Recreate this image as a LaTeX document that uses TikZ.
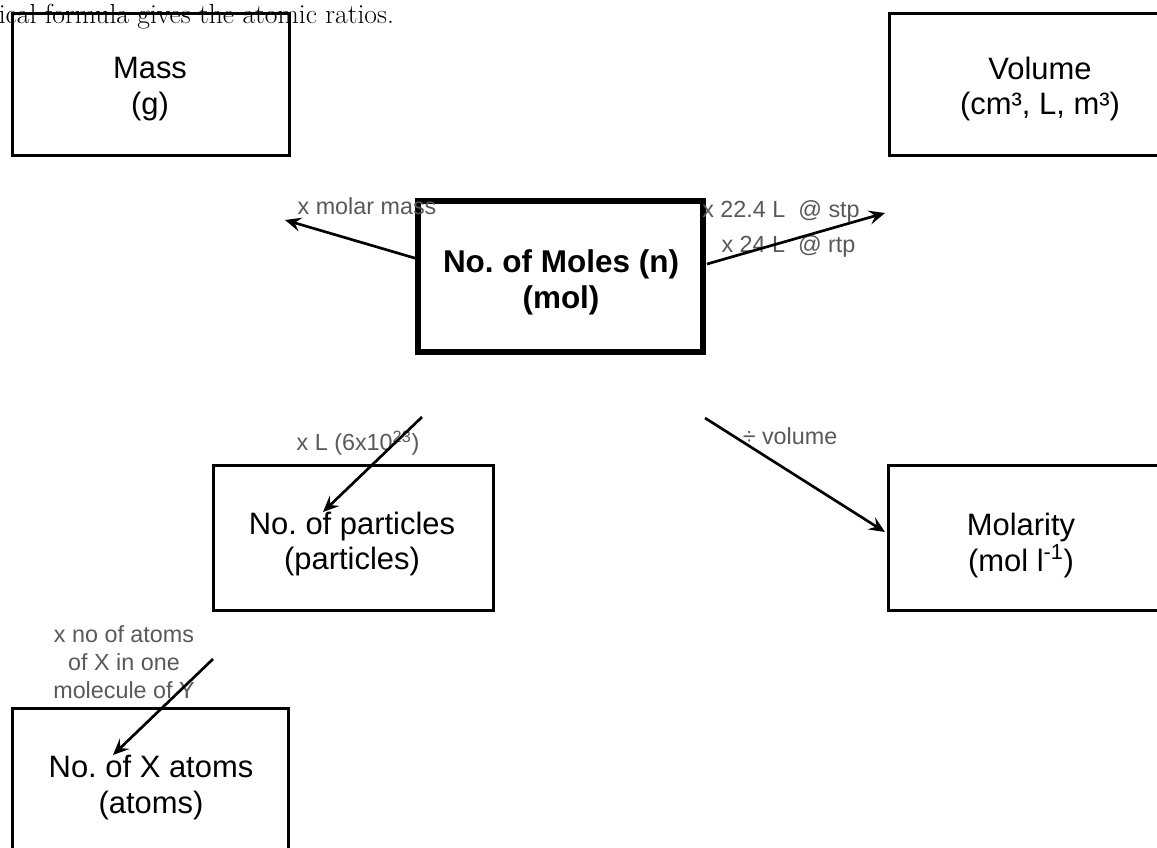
\documentclass[tikz,border=0pt]{standalone}
\usepackage{fontspec}
\setmainfont{Latin Modern Roman}
\newfontfamily\arialf{Liberation Sans}
\usetikzlibrary{arrows.meta}
\definecolor{lblgray}{RGB}{89,89,89}
\frenchspacing
\tikzset{
  box/.style={draw, line width=2.25pt, rectangle, inner sep=0pt},
  mainbox/.style={draw, line width=4pt, rectangle, inner sep=0pt},
  boxtext/.style={font=\arialf\fontsize{23.2}{26.6}\selectfont, align=center, inner sep=0pt},
  maintext/.style={font=\arialf\bfseries\fontsize{23.6}{26.8}\selectfont, align=center, inner sep=0pt},
  lbl/.style={font=\arialf\fontsize{17.5}{21}\selectfont, text=lblgray, inner sep=0pt, align=center},
  conv/.style={line width=2pt, -{Stealth[length=12pt,width=10.5pt,inset=4.5pt]}},
}
\begin{document}
\begin{tikzpicture}[x=0.75pt,y=-0.75pt]
\useasboundingbox (0,0) rectangle (1157,847);
\clip (0,0) rectangle (1157,847);

% cut-off line of running text
\node[anchor=base west, inner sep=0pt, font=\fontsize{20.7}{22}\selectfont] (caption) at (-1.5,23) {ical formula gives the atomic ratios.};

% boxes
\node[box, minimum width=207.75pt, minimum height=106.5pt] (mass) at (150.5,84) {};
\node[box, minimum width=225pt, minimum height=106.5pt] (volume) at (1039,84) {};
\node[mainbox, minimum width=213.75pt, minimum height=113.25pt] (moles) at (560.5,276.5) {};
\node[box, minimum width=210pt, minimum height=108.75pt] (particles) at (353,537.5) {};
\node[box, minimum width=211.5pt, minimum height=108.75pt] (molarity) at (1029,537.5) {};
\node[box, minimum width=207pt, minimum height=108.75pt] (atoms) at (150,780.5) {};

% box texts
\node[boxtext] (masst) at (150,89) {Mass\\(g)};
\node[boxtext] (volumet) at (1040,89) {Volume\\(cm³, L, m³)};
\node[maintext] (molest) at (561,282.5) {No. of Moles (n)\\(mol)};
\node[boxtext] (particlest) at (352,544) {No. of particles\\(particles)};
\node[boxtext] (molarityt) at (1021,545.5) {Molarity\\(mol l\textsuperscript{-1})};
\node[boxtext] (atomst) at (151,787.5) {No. of X atoms\\(atoms)};

% labels
\node[lbl] (lmass) at (367,206.5) {x molar mass};
\node[lbl] (lstp) at (781,211) {x 22.4 L~ @ stp};
\node[lbl] (lrtp) at (788.5,246) {x 24 L~ @ rtp};
\node[lbl] (lavo) at (358,443) {x L (6x10\textsuperscript{23})};
\node[lbl] (lvol) at (790,436.5) {÷ volume};
\node[lbl] (latoms) at (124,662.5) {x no of atoms\\of X in one\\molecule of Y};

% connector end points
\coordinate (m1) at (418,259);
\coordinate (m2) at (285,220);
\coordinate (v1) at (707,264);
\coordinate (v2) at (885,213);
\coordinate (p1) at (422,417);
\coordinate (p2) at (323,512);
\coordinate (c1) at (705,418);
\coordinate (c2) at (885,532);
\coordinate (a1) at (213,659);
\coordinate (a2) at (113,755);

\draw[conv] (m1) -- (m2);
\draw[conv] (v1) -- (v2);
\draw[conv] (p1) -- (p2);
\draw[conv] (c1) -- (c2);
\draw[conv] (a1) -- (a2);
\end{tikzpicture}
\end{document}
